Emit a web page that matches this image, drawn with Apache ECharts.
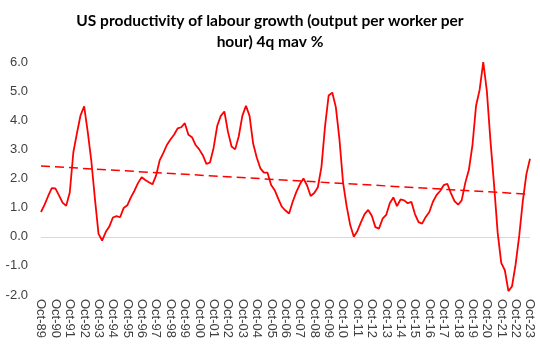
<!DOCTYPE html>
<html>
<head>
<meta charset="utf-8">
<script src="https://cdn.jsdelivr.net/npm/echarts@6/dist/echarts.min.js"></script>
<style>
  html, body { margin: 0; padding: 0; background: #fff; }
  #chart { width: 540px; height: 351px; }
</style>
</head>
<body>
<div id="chart"></div>
<script>
// quarterly categories, Oct-89 .. Oct-23
var months = ['Jan', 'Apr', 'Jul', 'Oct'];
var categories = ['Oct-89'];
for (var y = 1990; y <= 2023; y++) {
  for (var q = 0; q < 4; q++) {
    categories.push(months[q] + '-' + String(y).slice(2));
  }
}

// productivity growth, 4q moving average, %
var productivity = [
  0.85, 1.10, 1.40, 1.67, 1.66, 1.42, 1.17, 1.06,
  1.52, 2.90, 3.56, 4.17, 4.48, 3.60, 2.60, 1.30,
  0.10, -0.13, 0.16, 0.35, 0.66, 0.71, 0.67, 0.99,
  1.08, 1.35, 1.58, 1.85, 2.04, 1.95, 1.87, 1.80,
  2.10, 2.62, 2.87, 3.15, 3.34, 3.50, 3.72, 3.76,
  3.90, 3.50, 3.42, 3.15, 3.00, 2.80, 2.50, 2.55,
  3.05, 3.80, 4.15, 4.30, 3.60, 3.10, 3.00, 3.45,
  4.15, 4.50, 4.15, 3.20, 2.72, 2.35, 2.20, 2.20,
  1.78, 1.60, 1.30, 1.03, 0.90, 0.80, 1.20, 1.53,
  1.80, 2.00, 1.76, 1.40, 1.50, 1.70, 2.40, 3.80,
  4.85, 4.95, 4.45, 3.35, 1.87, 1.05, 0.40, 0.00,
  0.20, 0.50, 0.78, 0.92, 0.72, 0.33, 0.28, 0.62,
  0.75, 1.15, 1.35, 1.05, 1.28, 1.25, 1.15, 1.20,
  0.78, 0.50, 0.45, 0.68, 0.85, 1.20, 1.43, 1.57,
  1.77, 1.82, 1.50, 1.22, 1.10, 1.25, 1.85, 2.30,
  3.15, 4.50, 5.05, 6.00, 5.00, 3.30, 1.80, 0.15,
  -0.90, -1.15, -1.87, -1.70, -0.95, 0.03, 1.22, 2.15,
  2.68
];

// dashed trend line, start and end values
var trendValues = [2.43, 1.46];

var yTicks = { min: -2, max: 6, interval: 1 };

var red = '#ff0000';
var labelColor = '#404040';

var chart = echarts.init(document.getElementById('chart'));
chart.setOption({
  animation: false,
  title: {
    text: 'US productivity of labour growth (output per worker per\nhour) 4q mav %',
    left: 'center',
    top: 5,
    textStyle: {
      fontFamily: 'Lato',
      fontWeight: 'bold',
      fontSize: 15.5,
      lineHeight: 21,
      color: '#000'
    }
  },
  grid: { left: 41, right: 10, top: 62, bottom: 56 },
  xAxis: {
    type: 'category',
    data: categories,
    boundaryGap: false,
    axisLine: { show: false, onZero: false },
    axisTick: { show: false },
    axisLabel: {
      interval: 3,
      rotate: -90,
      margin: 4,
      color: labelColor,
      fontFamily: 'Liberation Sans',
      fontSize: 13
    }
  },
  yAxis: {
    type: 'value',
    min: yTicks.min,
    max: yTicks.max,
    interval: yTicks.interval,
    axisLine: { show: false },
    axisTick: { show: false },
    splitLine: { show: false },
    axisLabel: {
      margin: 13,
      color: labelColor,
      fontFamily: 'Liberation Sans',
      fontSize: 13,
      formatter: function (v) { return v.toFixed(1); }
    }
  },
  series: [
    {
      type: 'line',
      data: productivity,
      symbol: 'none',
      lineStyle: { color: red, width: 1.8 },
      z: 3,
      markLine: {
        silent: true,
        symbol: 'none',
        label: { show: false },
        lineStyle: { color: '#d9d9d9', type: 'solid', width: 1 },
        data: [{ yAxis: 0 }],
        z: 1
      }
    },
    {
      type: 'line',
      data: [
        [categories[0], trendValues[0]],
        [categories[categories.length - 1], trendValues[1]]
      ],
      symbol: 'none',
      lineStyle: { color: red, width: 1.5, type: [9, 5] },
      z: 2
    }
  ]
});
</script>
</body>
</html>
